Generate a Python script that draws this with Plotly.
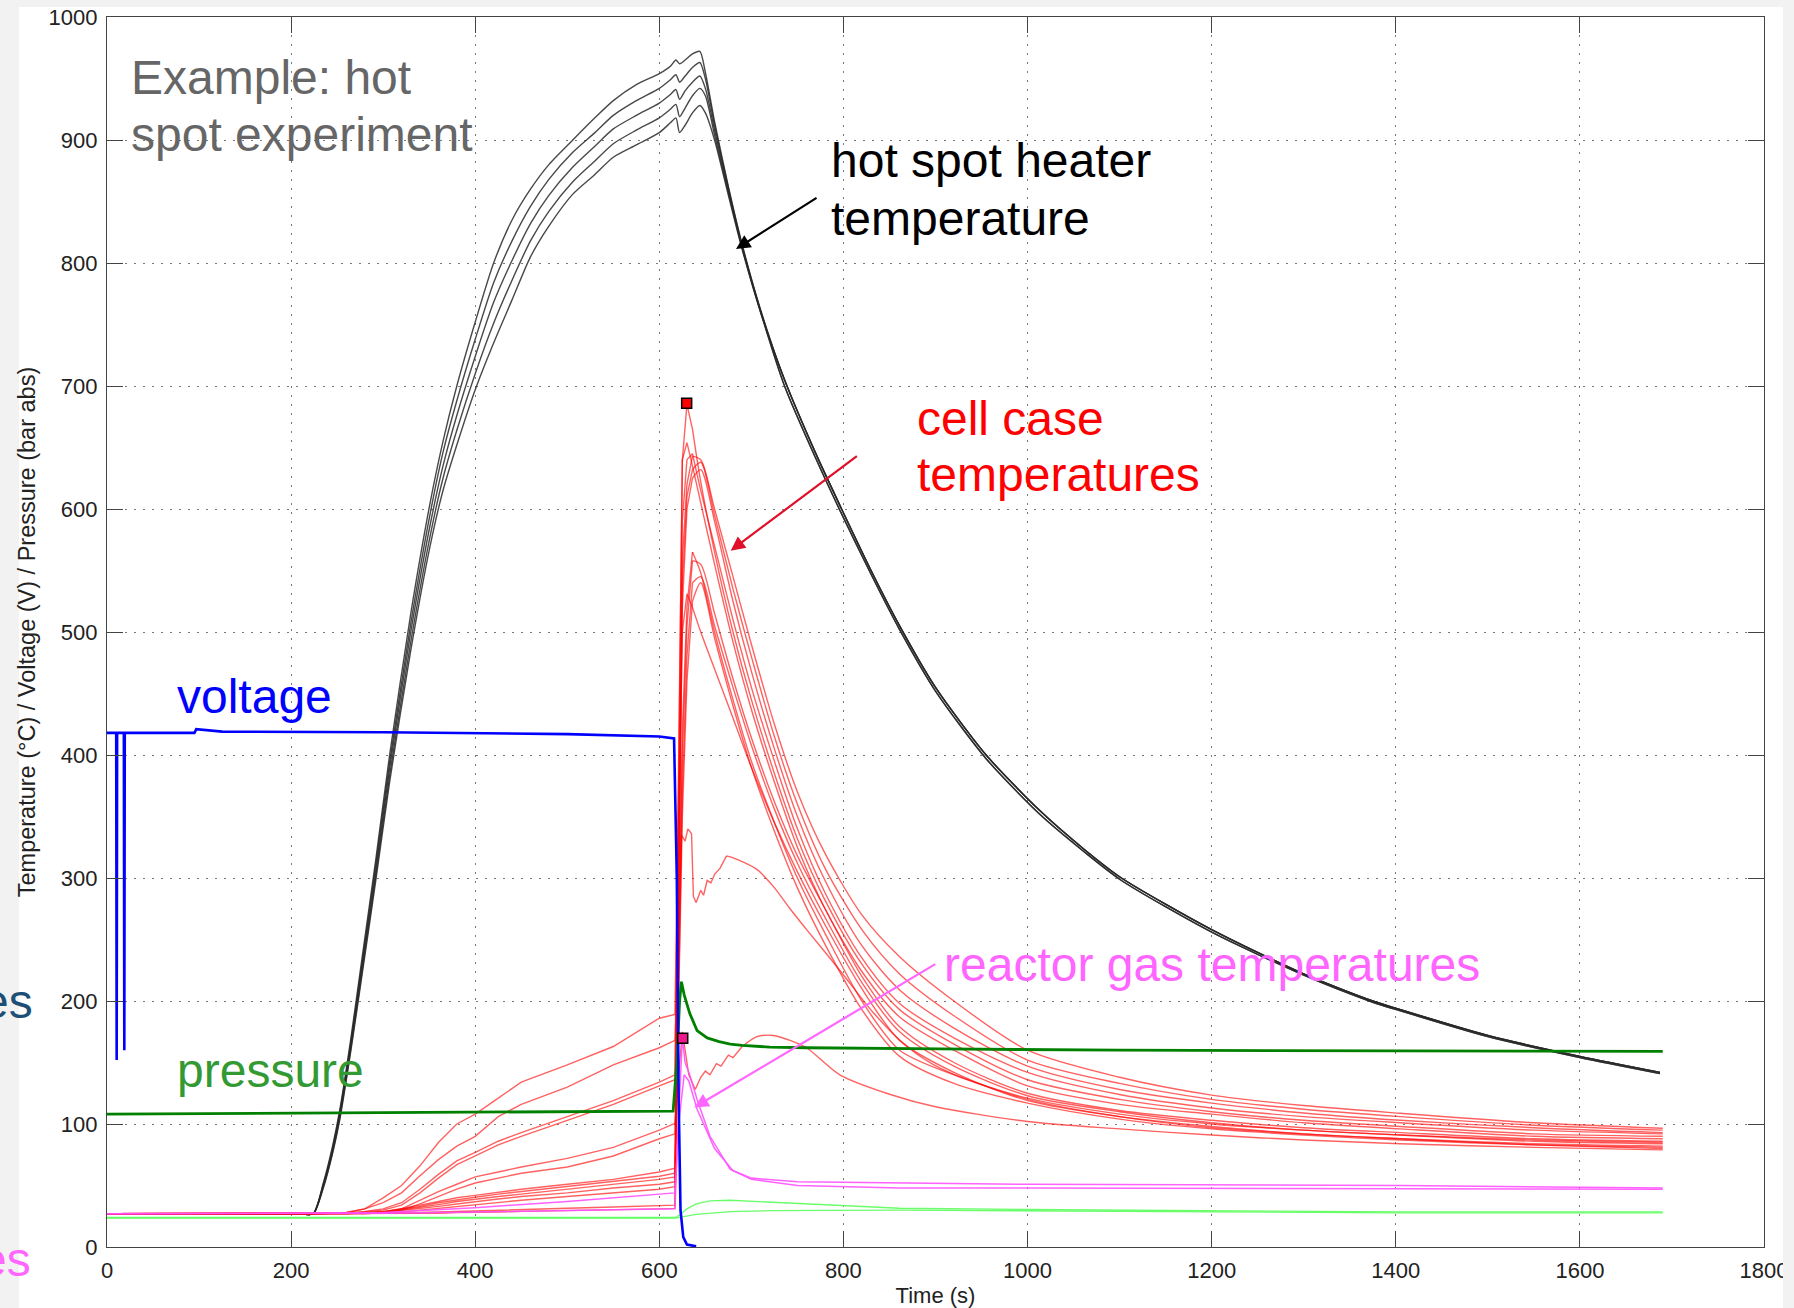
import plotly.graph_objects as go

# ---------------- data ----------------
x_ticks = [0, 200, 400, 600, 800, 1000, 1200, 1400, 1600, 1800]
y_ticks = [0, 100, 200, 300, 400, 500, 600, 700, 800, 900, 1000]

# hot spot heater temperatures (5 thermocouples)
t_heat_head = [0, 210, 224, 235, 245, 253, 265, 278, 292, 307, 330, 351, 365, 380, 400, 420, 440, 460, 480,
               506, 530, 550, 575, 600, 612, 618, 622, 628, 636, 644, 650, 660, 675, 690, 710]
t_heat_tail = [736, 770, 798, 830, 861, 900, 955, 1013, 1062, 1102, 1200, 1300, 1375, 1405, 1500, 1600, 1687]
heat1_head = [27, 27, 27, 52, 82, 112, 170, 240, 315, 400, 515, 605, 655, 700, 752, 800, 835, 860, 880,
              900, 918, 932, 945, 954, 960, 965, 962, 965, 970, 972, 955, 915, 862, 815, 762]
heat2_head = [27, 27, 27, 51, 80, 110, 167, 236, 311, 394, 507, 596, 646, 688, 738, 784, 818, 846, 868,
              890, 906, 920, 932, 942, 949, 953, 947, 952, 959, 963, 950, 912, 861, 814, 761]
heat3_head = [27, 27, 27, 50, 79, 108, 165, 233, 306, 389, 500, 587, 635, 676, 724, 768, 802, 832, 855,
              878, 895, 909, 920, 930, 937, 941, 933, 940, 947, 952, 942, 908, 859, 813, 761]
heat4_head = [27, 27, 27, 49, 77, 106, 162, 229, 302, 383, 492, 578, 625, 664, 710, 751, 786, 818, 842,
              866, 883, 897, 908, 918, 925, 929, 919, 926, 936, 942, 936, 904, 857, 812, 760]
heat5_head = [27, 27, 27, 48, 76, 104, 160, 226, 298, 378, 485, 570, 615, 652, 697, 735, 770, 805, 830,
              856, 872, 886, 896, 906, 914, 918, 906, 912, 922, 928, 922, 900, 855, 811, 760]
heat_tail_a = [705, 645, 600, 550, 505, 455, 400, 355, 323, 300, 258, 222, 200, 193, 172, 155, 142]
heat_tail_b = [700, 641, 596, 547, 502, 452, 397, 352, 321, 298, 256, 221, 199, 192, 171, 154, 141]

# cell case temperatures
t_cell_pre = [0, 230, 260, 280, 300, 320, 340, 360, 380, 400, 425, 450, 500, 550, 600, 617]
t_cell_post = [621, 625, 630, 636, 645, 660, 680, 700, 725, 750, 780, 820, 861, 920, 1000, 1100,
               1200, 1300, 1405, 1550, 1690]
cell_a = [27, 27, 28, 31, 40, 50, 66, 85, 100, 108, 121, 134, 148, 163, 186, 189,
          380, 640, 685, 665, 622, 565, 500, 445, 385, 332, 282, 230, 193, 165, 136, 120, 110, 103, 98, 92, 90]
cell_b = [27, 27, 27.5, 29, 31, 36, 47, 59, 70, 77, 86, 93, 106, 119, 134, 140,
          400, 640, 654, 635, 605, 555, 492, 437, 378, 325, 275, 224, 187, 160, 131, 116, 108, 101, 96, 90, 88]
cell_c = [27, 27, 27.5, 28.5, 30, 34, 44, 56, 67, 74, 83, 90, 103, 116, 131, 136,
          320, 590, 640, 645, 615, 570, 510, 455, 395, 340, 288, 235, 198, 170, 142, 124, 113, 106, 101, 95, 92]
cell_d = [27, 27, 27, 27.5, 28.5, 31, 34, 37, 40, 42, 44.5, 47, 51, 55, 61, 64,
          300, 560, 620, 643, 640, 600, 545, 490, 425, 370, 320, 270, 236, 200, 160, 138, 123.5, 115, 108.7, 101, 96.5]
cell_e = [27, 27, 27, 27.5, 28.5, 30.5, 33, 36, 38.5, 40.5, 43, 45, 49, 53, 57.5, 60,
          280, 540, 610, 632, 638, 595, 535, 480, 415, 360, 308, 258, 222, 188, 152, 133, 120, 112, 106, 99, 95]
cell_f = [27, 27, 27, 27.5, 28, 30, 32, 34.5, 37, 39, 41, 43, 47, 51, 55, 57,
          260, 520, 600, 625, 632, 590, 525, 468, 405, 350, 298, 245, 209, 178, 147, 128, 117, 109, 103, 97, 93]
cell_g = [27, 27, 27, 27.5, 28.5, 30, 35, 41, 47, 52, 56, 60, 65, 74, 88, 92,
          250, 420, 520, 565, 548, 500, 445, 395, 345, 300, 255, 200, 160, 140, 121, 108, 100, 95, 91, 87, 85]
cell_h = [27, 27, 27, 27, 28, 29.5, 31, 33, 35, 37, 39, 41, 44, 48, 51, 53,
          230, 400, 505, 558, 555, 515, 462, 414, 362, 318, 275, 220, 179, 150, 125, 111, 103, 97, 93, 88, 86]
cell_i = [27, 27, 27, 27, 27.5, 28.5, 30, 31.5, 33, 34.5, 36, 38, 41, 44, 47, 49,
          210, 370, 480, 540, 545, 505, 455, 408, 356, 312, 268, 215, 175, 147, 123, 110, 101, 95, 91, 86, 84]
cell_j = [27, 27, 27, 27, 27, 27.5, 28, 28.5, 29, 29.5, 30, 30.5, 31.5, 32.5, 33.5, 34,
          200, 350, 460, 525, 540, 495, 440, 390, 338, 292, 246, 193, 155, 133, 117, 104, 96, 91, 87, 83, 81]
cell_k = [27, 27, 27, 27, 27, 27, 27.5, 27.5, 28, 28, 28.5, 29, 29.5, 30.5, 31, 31.4,
          350, 500, 531, 520, 500, 470, 430, 390, 345, 305, 262, 210, 168, 142, 119, 106, 98, 92, 88, 83, 80]

# cell that peaks near 320 °C
t_cell_m = [0, 230, 260, 280, 300, 320, 340, 360, 380, 400, 425, 450, 500, 550, 600, 617,
            621, 624, 628, 631, 635, 637, 640, 645, 648, 652, 656, 660, 666, 673, 685, 706, 724, 742,
            760, 796, 833, 869, 906, 1000, 1100, 1200, 1300, 1405, 1550, 1690]
cell_m = [27, 27, 28, 31, 36, 44, 58, 71, 82, 90, 106, 116, 130, 148, 162, 168,
          250, 335, 330, 340, 336, 285, 280, 290, 286, 298, 296, 303, 308, 318, 315, 307, 293, 275,
          258, 225, 190, 163, 145, 120, 106, 97, 92, 88, 84, 82]

# cell that peaks near 170 °C
t_cell_n = [0, 230, 260, 280, 300, 320, 340, 360, 380, 400, 425, 450, 500, 550, 600, 617,
            621, 625, 628, 632, 639, 645, 650, 655, 662, 667, 675, 680, 690, 706, 724, 742, 760,
            796, 851, 900, 1000, 1100, 1200, 1300, 1405, 1550, 1690]
cell_n = [27, 27, 27, 28, 29, 31, 38, 45, 51, 57, 61, 65, 72, 81, 95, 100.5,
          140, 175, 160, 140, 128, 138, 143, 140, 149, 147, 156, 154, 163, 171, 172, 168, 162,
          140, 124, 114, 102, 96, 91, 87, 84, 81, 79]

# reactor gas temperatures
t_gas1 = [0, 300, 400, 500, 617, 620, 625, 628, 633, 641, 655, 677, 700, 750, 861, 1000, 1405, 1690]
gas1 = [27, 27.5, 28.5, 29.5, 31, 90, 170, 150, 140, 120, 90, 63, 56, 53, 52, 51, 50, 48]
t_gas2 = [0, 300, 400, 500, 617, 621, 627, 632, 641, 660, 680, 700, 750, 861, 1000, 1405, 1690]
gas2 = [27, 28, 32, 37, 44, 100, 140, 135, 112, 80, 62, 55, 50, 48, 48, 47.5, 47]

# light green traces
t_lg1 = [0, 617, 622, 630, 640, 655, 677, 720, 780, 861, 1000, 1200, 1405, 1690]
lg1 = [24, 24, 26, 31, 35, 37.5, 38, 36.5, 34, 31.5, 30.5, 29.5, 28.5, 28.5]
t_lg2 = [0, 617, 625, 640, 677, 720, 861, 1000, 1200, 1405, 1690]
lg2 = [23.5, 23.5, 24.5, 26.5, 28.7, 29.5, 30, 29.5, 28.5, 27.7, 27.8]

# pressure
t_press = [0, 100, 300, 500, 615, 619, 622, 624, 627, 633, 641, 652, 665, 677, 690, 720, 760, 905,
           1100, 1400, 1690]
press = [108, 108.5, 109, 110, 110.5, 150, 200, 215.7, 205, 190, 176, 170, 167, 165, 164, 162.5, 162,
         161, 160, 159.5, 159]

# voltage
t_volt = [0, 10, 10.5, 11, 18.3, 18.8, 19.3, 95, 97, 115, 125, 300, 500, 600, 616, 619, 621, 623,
          626, 630, 640]
volt = [418, 418, 152, 418, 418, 160, 418, 418, 421, 420, 419, 418.5, 417, 415, 413.5, 300, 120, 30,
        8, 2, 0.5]

# marked points
mark_cell = ([629.7], [685.9])
mark_gas = ([625.4], [169.8])

# ---------------- figure ----------------
W, H = 1794, 1308
ML, MR, MT, MB = 107, 30, 17, 61
PW, PH = W - ML - MR, H - MT - MB


def pxx(x):
    return (x - ML) / PW


def pxy(y):
    return (H - MB - y) / PH


FONT = "Liberation Sans, Arial, Helvetica, sans-serif"
fig = go.Figure()

heat_sets = [(heat1_head, heat_tail_a), (heat2_head, heat_tail_b), (heat3_head, heat_tail_a),
             (heat4_head, heat_tail_b), (heat5_head, heat_tail_a)]
for head, tail in heat_sets:
    fig.add_trace(go.Scatter(x=t_heat_head + t_heat_tail, y=head + tail, mode="lines",
                             line=dict(color="rgba(40,40,40,0.85)", width=1.4, shape="spline",
                                       smoothing=0.7)))

red = "rgba(255,0,0,0.62)"


def add_red(tt, vv, t_split):
    k = next(i for i, t in enumerate(tt) if t >= t_split)
    fig.add_trace(go.Scatter(x=tt[:k + 1], y=vv[:k + 1], mode="lines", line=dict(color=red, width=1.4)))
    fig.add_trace(go.Scatter(x=tt[k:], y=vv[k:], mode="lines",
                             line=dict(color=red, width=1.4, shape="spline", smoothing=0.8)))


t_cell = t_cell_pre + t_cell_post
for c in [cell_a, cell_b, cell_c, cell_d, cell_e, cell_f, cell_g, cell_h, cell_i, cell_j, cell_k]:
    add_red(t_cell, c, 636)
add_red(t_cell_m, cell_m, 673)
add_red(t_cell_n, cell_n, 690)

for tt, vv in [(t_lg1, lg1), (t_lg2, lg2)]:
    fig.add_trace(go.Scatter(x=tt, y=vv, mode="lines", line=dict(color="rgba(90,255,90,0.9)", width=1.3)))
for tt, vv in [(t_gas1, gas1), (t_gas2, gas2)]:
    fig.add_trace(go.Scatter(x=tt, y=vv, mode="lines", line=dict(color="rgba(255,80,255,0.9)", width=1.5)))

fig.add_trace(go.Scatter(x=t_press, y=press, mode="lines", line=dict(color="#008000", width=2.8)))
fig.add_trace(go.Scatter(x=t_volt, y=volt, mode="lines", line=dict(color="#0000ff", width=2.6)))

fig.add_trace(go.Scatter(x=mark_cell[0], y=mark_cell[1], mode="markers",
                         marker=dict(symbol="square", size=10, color="#ff0000",
                                     line=dict(color="black", width=1.5))))
fig.add_trace(go.Scatter(x=mark_gas[0], y=mark_gas[1], mode="markers",
                         marker=dict(symbol="square", size=10, color="#f0188c",
                                     line=dict(color="black", width=1.5))))

# text labels (pixel positions of left edge and vertical centre)
labels = [
    ("Example: hot", 129, 78, "#666666"),
    ("spot experiment", 129, 134.5, "#666666"),
    ("hot spot heater", 829, 160.5, "#000000"),
    ("temperature", 829, 218, "#000000"),
    ("cell case", 915, 419, "#ff0000"),
    ("temperatures", 915, 475, "#ff0000"),
    ("voltage", 175, 696, "#0000ff"),
    ("pressure", 175, 1070, "#339933"),
    ("reactor gas temperatures", 942, 964, "#ff66ff"),
]
ann = []
for txt, lx, cy, col in labels:
    ann.append(dict(text=txt, x=pxx(lx), y=pxy(cy), xref="paper", yref="paper", xanchor="left",
                    yanchor="middle", showarrow=False, font=dict(family=FONT, size=48, color=col)))

# cut-off words at the left edge of the slide
ann.append(dict(text="es", x=pxx(35), y=pxy(1001), xref="paper", yref="paper", xanchor="right",
                yanchor="middle", showarrow=False, font=dict(family=FONT, size=48, color="#1d4f76")))
ann.append(dict(text="es", x=pxx(33), y=pxy(1259), xref="paper", yref="paper", xanchor="right",
                yanchor="middle", showarrow=False, font=dict(family=FONT, size=48, color="#ff66ff")))

arrows = [
    (683.3, 811.4, 772.4, 853.7, "#000000"),
    (677.5, 566.1, 816.2, 643.9, "#e0102a"),
    (638.0, 113.5, 901.4, 230.7, "#ff66ff"),
]
for hx, hy, tx, ty, col in arrows:
    ann.append(dict(text="", x=hx, y=hy, ax=tx, ay=ty, xref="x", yref="y", axref="x", ayref="y",
                    showarrow=True, arrowhead=2, arrowsize=1.3, arrowwidth=2.2, arrowcolor=col))

gray = "#f2f2f2"
shapes = [
    dict(type="rect", xref="paper", yref="paper", x0=pxx(0), x1=pxx(19), y0=pxy(H), y1=pxy(0),
         fillcolor=gray, line=dict(width=0), layer="above"),
    dict(type="rect", xref="paper", yref="paper", x0=pxx(0), x1=pxx(W), y0=pxy(7), y1=pxy(0),
         fillcolor=gray, line=dict(width=0), layer="above"),
    dict(type="rect", xref="paper", yref="paper", x0=pxx(1783), x1=pxx(W), y0=pxy(H), y1=pxy(0),
         fillcolor=gray, line=dict(width=0), layer="above"),
]

axis_common = dict(showline=True, linecolor="#444444", linewidth=1.3, mirror="ticks", ticks="inside",
                   ticklen=16, tickwidth=1.3, tickcolor="#444444", showgrid=True, gridcolor="#7a7a7a",
                   gridwidth=1.4, griddash="2px,7px", zeroline=False,
                   tickfont=dict(family=FONT, size=22, color="#222222"))

fig.update_layout(
    width=W, height=H, margin=dict(l=ML, r=MR, t=MT, b=MB, autoexpand=False),
    paper_bgcolor="white", plot_bgcolor="white", showlegend=False, hovermode=False,
    annotations=ann, shapes=shapes,
    xaxis=dict(range=[0, 1800], tickvals=x_ticks, ticktext=[str(v) for v in x_ticks],
               title=dict(text="Time (s)", font=dict(family=FONT, size=22, color="#222222"), standoff=8),
               automargin=False, ticklabelstandoff=3, **axis_common),
    yaxis=dict(range=[0, 1000], tickvals=y_ticks, ticktext=[str(v) for v in y_ticks],
               title=dict(text="Temperature (°C) / Voltage (V) / Pressure (bar abs)",
                          font=dict(family=FONT, size=23.5, color="#222222"), standoff=6),
               automargin=False, ticklabelstandoff=4, **axis_common),
)

fig.write_html("out.html")
